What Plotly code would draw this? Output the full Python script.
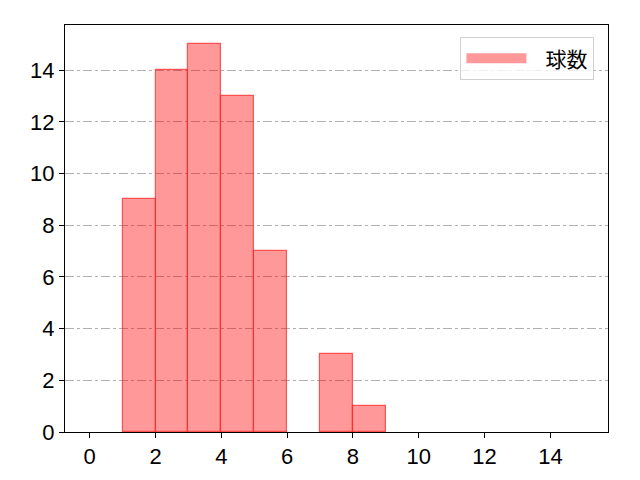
import plotly.graph_objects as go

# histogram of pitch counts: bin left edges and counts
bin_left = [1, 2, 3, 4, 5, 6, 7, 8]
counts = [9, 14, 15, 13, 7, 0, 3, 1]
bin_width = 1
series_name = '球数'

centers = [b + bin_width / 2 for b in bin_left]
edge_widths = [1.2 if c > 0 else 0 for c in counts]

fig = go.Figure()
fig.add_trace(go.Bar(
    x=centers, y=counts, width=bin_width, name=series_name,
    marker=dict(color='rgba(255,0,0,0.4)', line=dict(color='rgba(255,40,40,0.75)', width=edge_widths)),
    showlegend=False,
))
# legend proxy: a thick line gives a wide patch like matplotlib's
fig.add_trace(go.Scatter(
    x=[None], y=[None], mode='lines', name='\u00a0\u00a0\u00a0' + series_name,
    line=dict(color='rgba(255,0,0,0.4)', width=18),
))

# page body has an 8px margin, so shift margins to land the plot area where it should be
fig.update_layout(
    width=640, height=480,
    margin=dict(l=57, r=40, t=17, b=56, autoexpand=False),
    plot_bgcolor='white', paper_bgcolor='white',
    font=dict(family='Liberation Sans, Noto Sans CJK JP, sans-serif', size=22, color='black'),
    bargap=0,
    legend=dict(x=0.975, y=0.97, xanchor='right', yanchor='top',
                bgcolor='rgba(255,255,255,0.8)', bordercolor='#d0d0d0', borderwidth=1,
                font=dict(family='Noto Sans CJK JP', size=21), itemwidth=60),
)
fig.update_xaxes(
    range=[-0.75, 15.75], tickvals=list(range(0, 15, 2)), automargin=False,
    showgrid=False, showline=True, linecolor='black', linewidth=1, mirror=True,
    ticks='outside', ticklen=5, tickcolor='black', zeroline=False,
)
fig.update_yaxes(
    range=[0, 15.75], tickvals=list(range(0, 15, 2)), automargin=False,
    showgrid=True, gridcolor='#b0b0b0', griddash='dashdot', gridwidth=1,
    showline=True, linecolor='black', linewidth=1, mirror=True,
    ticks='outside', ticklen=5, tickcolor='black', zeroline=False,
    layer='above traces',
)

fig.write_html('out.html')
